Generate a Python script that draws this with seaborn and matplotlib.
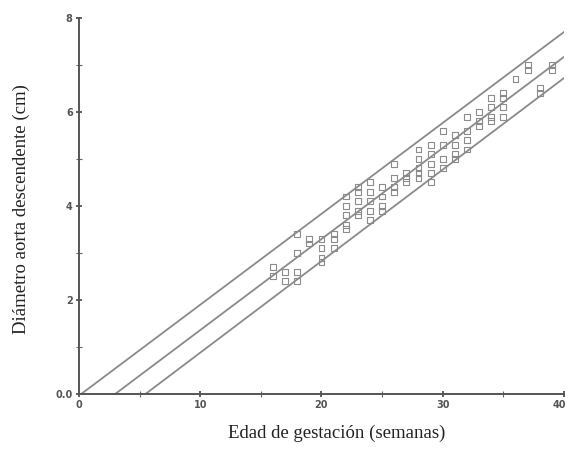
import matplotlib
matplotlib.use("Agg")
import matplotlib.pyplot as plt
import matplotlib.transforms as mtransforms
import seaborn as sns
import pandas as pd
import numpy as np

# Observations: gestational week and descending aorta diameter (cm)
weeks = [16, 16, 17, 17, 18, 18, 18, 18, 19, 19,
         20, 20, 20, 20, 21, 21, 21,
         22, 22, 22, 22, 22, 23, 23, 23, 23, 23,
         24, 24, 24, 24, 24, 25, 25, 25, 25,
         26, 26, 26, 26, 27, 27, 27,
         28, 28, 28, 28, 28, 29, 29, 29, 29, 29,
         30, 30, 30, 30, 31, 31, 31, 31,
         32, 32, 32, 32, 33, 33, 33,
         34, 34, 34, 34, 35, 35, 35, 35,
         36, 37, 37, 38, 38, 39, 39]
diam = [2.7, 2.5, 2.6, 2.4, 3.4, 3.0, 2.6, 2.4, 3.3, 3.2,
        3.3, 3.1, 2.9, 2.8, 3.4, 3.3, 3.1,
        4.2, 4.0, 3.8, 3.6, 3.5, 4.4, 4.3, 4.1, 3.9, 3.8,
        4.5, 4.3, 4.1, 3.9, 3.7, 4.4, 4.2, 4.0, 3.9,
        4.9, 4.6, 4.4, 4.3, 4.7, 4.6, 4.5,
        5.2, 5.0, 4.8, 4.7, 4.6, 5.3, 5.1, 4.9, 4.7, 4.5,
        5.6, 5.3, 5.0, 4.8, 5.5, 5.3, 5.1, 5.0,
        5.9, 5.6, 5.4, 5.2, 6.0, 5.8, 5.7,
        6.3, 6.1, 5.9, 5.8, 6.4, 6.3, 6.1, 5.9,
        6.7, 7.0, 6.9, 6.5, 6.4, 7.0, 6.9]

# Reference lines (upper, mean, lower): x-intercept and value at week 40
line_names = ["upper", "mean", "lower"]
line_x0 = [0.2, 3.0, 5.5]
line_x1 = [40, 40, 40]
line_y0 = [0.0, 0.0, 0.0]
line_y1 = [7.70, 7.17, 6.72]

x_ticks = [0, 10, 20, 30, 40]
x_ticklabels = ["0", "10", "20", "30", "40"]
y_ticks = [0, 2, 4, 6, 8]
y_ticklabels = ["0.0", "2", "4", "6", "8"]

sns.set_style("white")

fig = plt.figure(figsize=(5.68, 4.70), dpi=100)
ax = fig.add_axes([0.139, 0.162, 0.854, 0.800])

pts = pd.DataFrame({"week": weeks, "diam": diam})
lines = pd.DataFrame({
    "name": [n for n in line_names for _ in range(2)],
    "x": [v for a, b in zip(line_x0, line_x1) for v in (a, b)],
    "y": [v for a, b in zip(line_y0, line_y1) for v in (a, b)],
})

for n in line_names:
    sns.lineplot(data=lines[lines["name"] == n], x="x", y="y", ax=ax,
                 color="#8a8a8a", lw=1.3, legend=False, sort=False)

sns.scatterplot(data=pts, x="week", y="diam", ax=ax, marker="s", s=18,
                facecolor="none", edgecolor="#8c8c8c", linewidth=0.8,
                legend=False)

ax.set_xlim(0, 40)
ax.set_ylim(0, 8)
ax.set_xticks(x_ticks)
ax.set_xticklabels(x_ticklabels)
ax.set_yticks(y_ticks)
ax.set_yticklabels(y_ticklabels)
ax.set_xticks([5, 15, 25, 35], minor=True)
ax.set_yticks([1, 3, 5, 7], minor=True)

for s in ["top", "right"]:
    ax.spines[s].set_visible(False)
for s in ["left", "bottom"]:
    ax.spines[s].set_color("#555555")
    ax.spines[s].set_linewidth(1.4)

ax.tick_params(axis="both", which="major", direction="inout", length=5,
               width=1.2, color="#444444", labelsize=7, labelcolor="#555555",
               pad=2, left=True, bottom=True)
ax.tick_params(axis="both", which="minor", direction="inout", length=4,
               width=0.8, color="#666666", left=True, bottom=True)
for lab in ax.get_xticklabels() + ax.get_yticklabels():
    lab.set_fontweight("bold")
# keep the last x label inside the canvas
last = ax.get_xticklabels()[-1]
last.set_transform(last.get_transform() +
                   mtransforms.ScaledTranslation(-5 / 100, 0, fig.dpi_scale_trans))
ax.set_xlabel("")
ax.set_ylabel("")

fig.text(0.593, 0.079, "Edad de gestación (semanas)", ha="center", va="center",
         fontsize=13.5, family="Liberation Serif", color="#222222")
fig.text(0.038, 0.555, "Diámetro aorta descendente (cm)", ha="center",
         va="center", rotation=90, fontsize=13.5, family="Liberation Serif",
         color="#222222")

fig.savefig("out.png", dpi=100)
